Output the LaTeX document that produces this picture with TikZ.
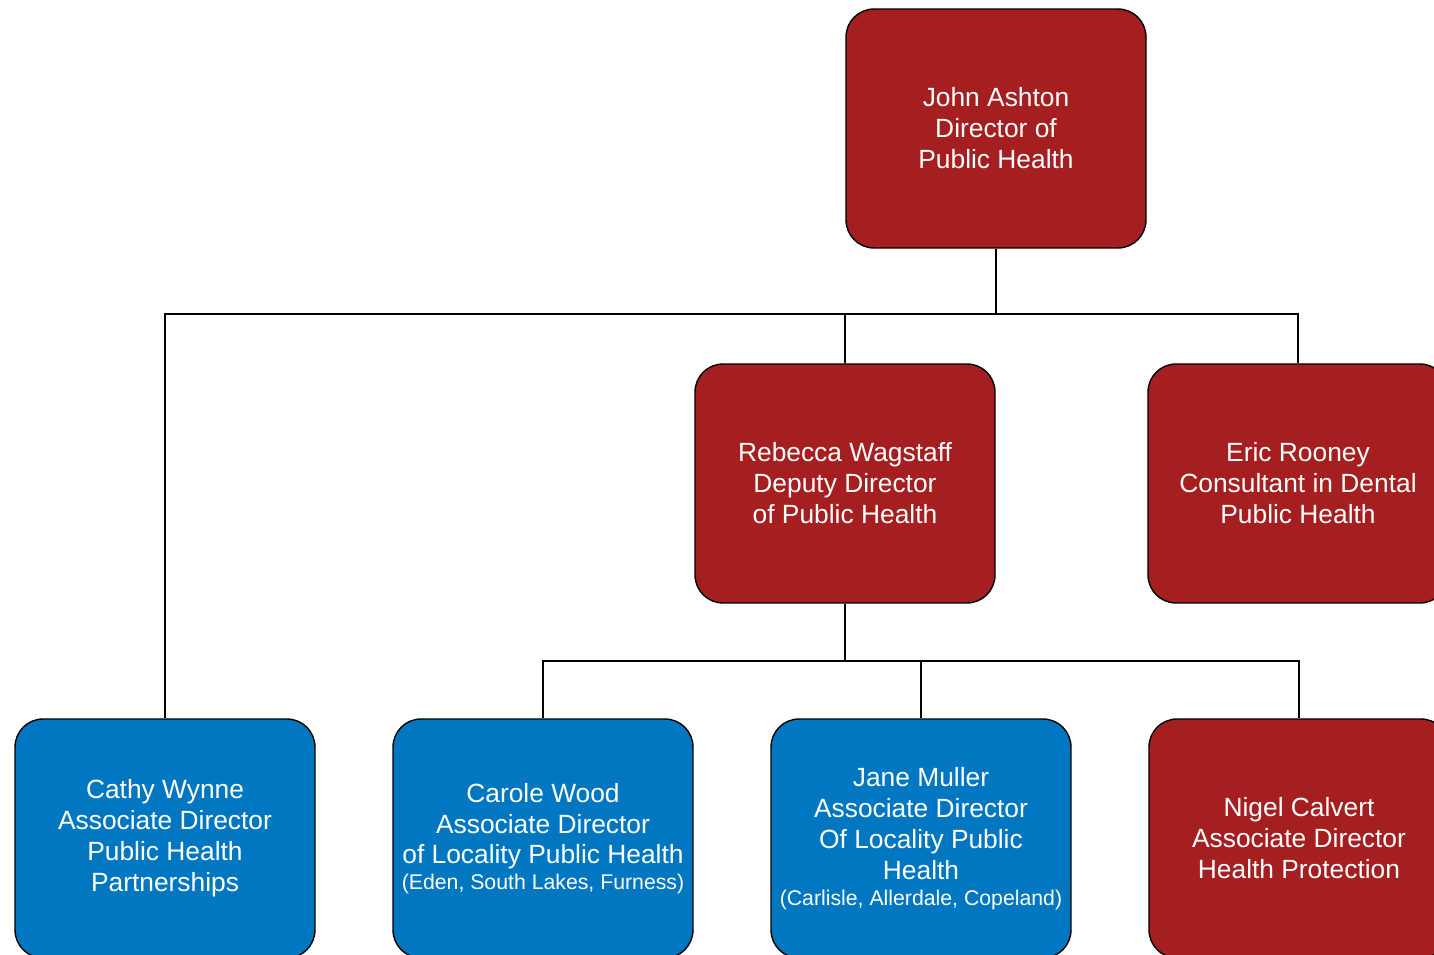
\documentclass[tikz,border=0pt]{standalone}
\usepackage{fontspec}
\setmainfont{Liberation Sans}
\usepackage{tikz}
\usetikzlibrary{positioning}

\definecolor{phred}{HTML}{A51E20}
\definecolor{phblue}{HTML}{0077C0}

\begin{document}
\begin{tikzpicture}[
    x=0.02cm, y=-0.02cm,
    font=\fontsize{15}{17.6}\selectfont
]
\tikzset{
    redbox/.style = {rectangle, rounded corners=0.56cm, draw=black, line width=0.8pt, align=center,
        fill=phred, text=white, minimum width=6cm, minimum height=4.78cm, inner sep=0pt},
    bluebox/.style = {redbox, fill=phblue},
    link/.style = {line width=1pt, black}
}
\clip (0,0) rectangle (1434,955);
\fill[white] (0,0) rectangle (1434,955);
% top level
\node[redbox] at (996,128.5) (ashton) {John Ashton\\Director of\\Public Health};
% second level
\node[redbox] at (845,483.5) (wagstaff) {Rebecca Wagstaff\\Deputy Director\\of Public Health};
\node[redbox] at (1298,483.5) (rooney) {Eric Rooney\\Consultant in Dental\\Public Health};
% third level
\node[bluebox] at (165,838.5) (wynne) {Cathy Wynne\\Associate Director\\Public Health\\Partnerships};
\node[bluebox] at (543,838.5) (wood) {Carole Wood\\Associate Director\\of Locality Public Health\\[-3pt]{\fontsize{12.1}{14}\selectfont(Eden, South Lakes, Furness)}};
\node[bluebox] at (921,838.5) (muller) {Jane Muller\\Associate Director\\Of Locality Public\\Health\\[-3pt]{\fontsize{12.1}{14}\selectfont(Carlisle, Allerdale, Copeland)}};
\node[redbox] at (1299,838.5) (calvert) {Nigel Calvert\\Associate Director\\Health Protection};
% bus lines
\coordinate (bus1) at (996,314);
\coordinate (bus2) at (845,661);
\draw[link] (ashton.south) -- (bus1);
\draw[link] (wynne.north) |- (bus1);
\draw[link] (rooney.north) |- (bus1);
\draw[link] (wagstaff.north) -- (wagstaff.north |- bus1);
\draw[link] (wagstaff.south) -- (bus2);
\draw[link] (wood.north) |- (bus2);
\draw[link] (calvert.north) |- (bus2);
\draw[link] (muller.north) -- (muller.north |- bus2);
\end{tikzpicture}
\end{document}
